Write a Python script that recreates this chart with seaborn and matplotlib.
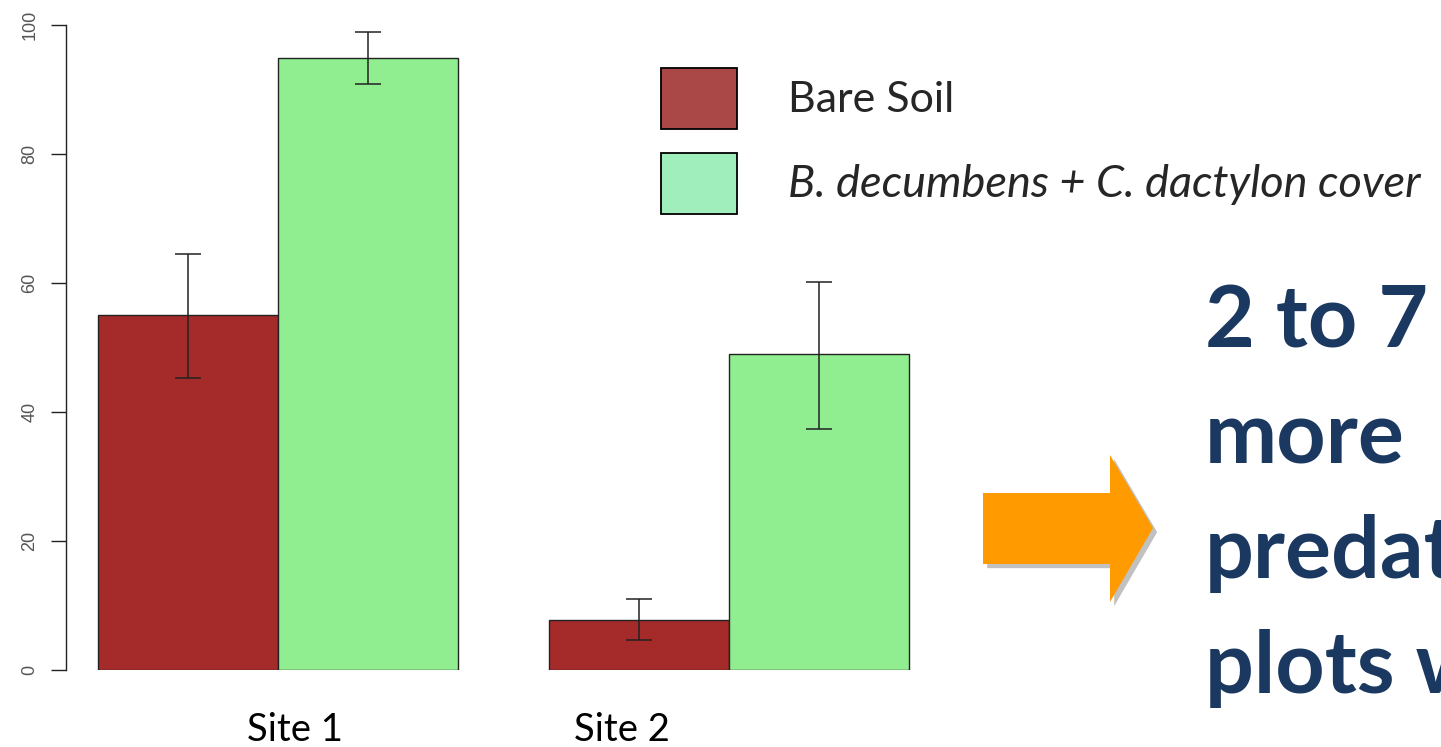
import numpy as np
import pandas as pd
import matplotlib
matplotlib.use("Agg")
import matplotlib.pyplot as plt
import matplotlib.patheffects as pe
from matplotlib.patches import Patch, Polygon
import seaborn as sns

# ---- data ----
sites = ["Site 1", "Site 2"]
covers = ["Bare Soil", "B. decumbens + C. dactylon cover"]
bare_soil = [55.0, 7.8]
grass_cover = [94.9, 49.0]
bare_soil_lo = [45.3, 4.6]
bare_soil_hi = [64.5, 11.0]
grass_lo = [90.9, 37.4]
grass_hi = [98.9, 60.2]
yticks = [0, 20, 40, 60, 80, 100]
message_lines = ["2 to 7", "more", "predat", "plots w"]

df = pd.DataFrame({
    "site": sites * 2,
    "cover": [covers[0]] * 2 + [covers[1]] * 2,
    "value": bare_soil + grass_cover,
})

W, H = 1441, 747
sns.set_style("white")
plt.rcParams["font.family"] = ["Lato", "DejaVu Sans"]

fig = plt.figure(figsize=(W / 100, H / 100), dpi=100)
ax = fig.add_axes([66 / W, 77 / H, (940 - 66) / W, (722 - 77) / H])

bar_colors = ["#A52A2A", "#90EE90"]
sns.barplot(data=df, x="site", y="value", hue="cover", order=sites,
            hue_order=covers, palette=bar_colors, edgecolor="#222222",
            linewidth=1.0, errorbar=None, legend=False, ax=ax, width=0.8,
            saturation=1)

lows = [bare_soil_lo, grass_lo]
highs = [bare_soil_hi, grass_hi]
for cont, lo, hi in zip(ax.containers, lows, highs):
    xs = [p.get_x() + p.get_width() / 2 for p in cont.patches]
    mids = [(a + b) / 2 for a, b in zip(lo, hi)]
    err = [[m - a for m, a in zip(mids, lo)], [b - m for m, b in zip(mids, hi)]]
    ax.errorbar(xs, mids, yerr=err, fmt="none", ecolor="#222222",
                elinewidth=1.1, capsize=9.5, capthick=1.1)

ax.set_ylim(0, 100)
ax.set_xlim(-0.4701, 1.4678)
ax.set_yticks(yticks)
ax.set_yticklabels([str(t) for t in yticks], rotation=90, va="center",
                   family="Liberation Sans", fontsize=13, color="#555555")
ax.set_xticks([])
ax.set_xlabel("")
ax.set_ylabel("")
ax.tick_params(axis="y", left=True, length=11, width=1, color="#222222", pad=9)
for s in ["top", "right", "bottom"]:
    ax.spines[s].set_visible(False)
ax.spines["left"].set_bounds(0, 100)
ax.spines["left"].set_color("#222222")
ax.spines["left"].set_linewidth(1)
ax.patch.set_alpha(0)

# site labels
fig.text(295 / W, 1 - 730 / H, "Site 1", ha="center", va="center", fontsize=27.5, color="black")
fig.text(622 / W, 1 - 730 / H, "Site 2", ha="center", va="center", fontsize=27.5, color="black")

# legend
handles = [Patch(facecolor="#AA4848", edgecolor="black", linewidth=1.3),
           Patch(facecolor="#A0EEBB", edgecolor="black", linewidth=1.3)]
leg = fig.legend(handles, covers, loc="upper left",
                 bbox_to_anchor=(661 / W, 1 - 68 / H), frameon=False,
                 fontsize=31, handlelength=1.77, handleheight=1.80,
                 handletextpad=1.18, labelspacing=0.56, borderpad=0,
                 borderaxespad=0)
leg.get_texts()[1].set_fontstyle("italic")
leg.get_texts()[1].set_fontsize(32.5)

# arrow
pts = [(983, 493), (1110, 493), (1110, 455), (1153, 528), (1110, 602),
       (1110, 564), (983, 564)]
pts_fig = [(x / W, 1 - y / H) for x, y in pts]
arrow = Polygon(pts_fig, closed=True, transform=fig.transFigure,
                facecolor="#FF9A00", edgecolor="none",
                path_effects=[pe.SimplePatchShadow(offset=(3, -3), shadow_rgbFace="#777777", alpha=0.45),
                              pe.Normal()])
fig.patches.append(arrow)

# message text
baselines = [348, 463, 578, 693]
for line, yb in zip(message_lines, baselines):
    fig.text(1205 / W, 1 - yb / H, line, ha="left", va="baseline",
             fontsize=62, fontweight="bold", color="#1B3960")

fig.savefig("out.png", dpi=100)
